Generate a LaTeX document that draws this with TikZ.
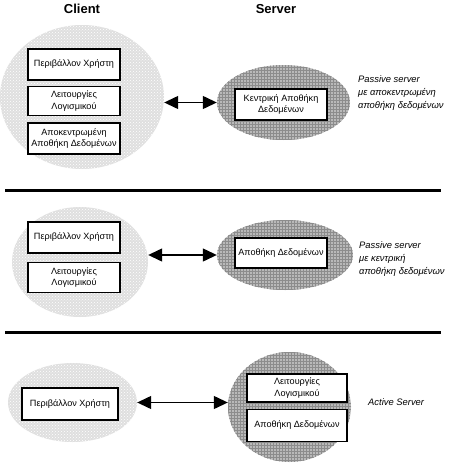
\documentclass[tikz,border=0pt]{standalone}
\usepackage{fontspec}
\setmainfont{Liberation Sans}
\usepackage{tikz}
\usetikzlibrary{positioning, arrows.meta, shapes.geometric, patterns}

\tikzset{
	clientcloud/.style={ellipse, inner sep=0pt, preaction={fill=gray!25}, pattern=crosshatch dots, pattern color=white},
	servercloud/.style={ellipse, inner sep=0pt, preaction={fill=gray!55}, pattern=grid, pattern color=gray!90},
	box/.style={draw, line width=1.4pt, fill=white, minimum width=92pt, minimum height=30pt, align=center, inner sep=0pt, font=\fontsize{9.1}{11.5}\selectfont},
	note/.style={anchor=west, align=left, inner sep=0pt, font=\itshape\fontsize{9.4}{13}\selectfont},
	head/.style={font=\bfseries\fontsize{13}{14}\selectfont},
	biarrow/.style={{Triangle[length=14pt,width=13pt]}-{Triangle[length=14pt,width=13pt]}, line width=1.3pt},
	sep/.style={line width=3pt}
}

\begin{document}
\begin{tikzpicture}[x=1pt,y=-1pt]
		\useasboundingbox (0,0) rectangle (450,463);
		\node[head] (client) at (82,9) {Client};
		\node[head] (server) at (276,9) {Server};

		% passive server, decentralised data
		\node[clientcloud, minimum width=164pt, minimum height=144pt] (cl1) at (82,97) {};
		\node[box, minimum height=31pt] (c1a) at (74,64.5) {Περιβάλλον Χρήστη};
		\node[box, below=5pt of c1a, minimum height=29pt] (c1b) {Λειτουργίες\\Λογισμικού};
		\node[box, below=6pt of c1b, minimum height=31pt] (c1c) {Αποκεντρωμένη\\Αποθήκη Δεδομένων};
		\node[servercloud, minimum width=133pt, minimum height=75pt] (sv1) at (283.5,102.5) {};
		\node[box, minimum height=31pt] (s1a) at (281,104.5) {Κεντρική Αποθήκη\\Δεδομένων};
		\node[note] (n1) at (358,93) {Passive server\\με αποκεντρωμένη\\αποθήκη δεδομένων};
		\path[draw, biarrow] (sv1.west -| cl1.east) -- (sv1.west);

		\coordinate (l1a) at (5,190);
		\coordinate (l1b) at (441,190);
		\path[draw, sep] (l1a) -- (l1b);

		% passive server, central data
		\node[clientcloud, minimum width=136pt, minimum height=110pt] (cl2) at (80,262) {};
		\node[box, minimum height=31pt] (c2a) at (74,237.5) {Περιβάλλον Χρήστη};
		\node[box, below=8pt of c2a] (c2b) {Λειτουργίες\\Λογισμικού};
		\node[servercloud, minimum width=136pt, minimum height=70pt] (sv2) at (285,255) {};
		\node[box] (s2a) at (281,253) {Αποθήκη Δεδομένων};
		\node[note] (n2) at (359,259) {Passive server\\με κεντρική\\αποθήκη δεδομένων};
		\path[draw, biarrow] (sv2.west -| cl2.east) -- (sv2.west);

		\coordinate (l2a) at (5,332);
		\coordinate (l2b) at (441,332);
		\path[draw, sep] (l2a) -- (l2b);

		% active server
		\node[clientcloud, minimum width=129pt, minimum height=79pt] (cl3) at (72.5,402.5) {};
		\node[box, minimum width=96pt, minimum height=32pt] (c3a) at (70,404) {Περιβάλλον Χρήστη};
		\node[servercloud, minimum width=123pt, minimum height=110pt] (sv3) at (289.5,407) {};
		\node[box, minimum width=100pt, minimum height=28pt] (s3a) at (297,388) {Λειτουργίες\\Λογισμικού};
		\node[box, below=6pt of s3a, minimum width=100pt, minimum height=32pt] (s3b) {Αποθήκη Δεδομένων};
		\node[note] (n3) at (368,402) {Active Server};
		\path[draw, biarrow] (cl3.east) -- (cl3.east -| sv3.west);
	\end{tikzpicture}
\end{document}
